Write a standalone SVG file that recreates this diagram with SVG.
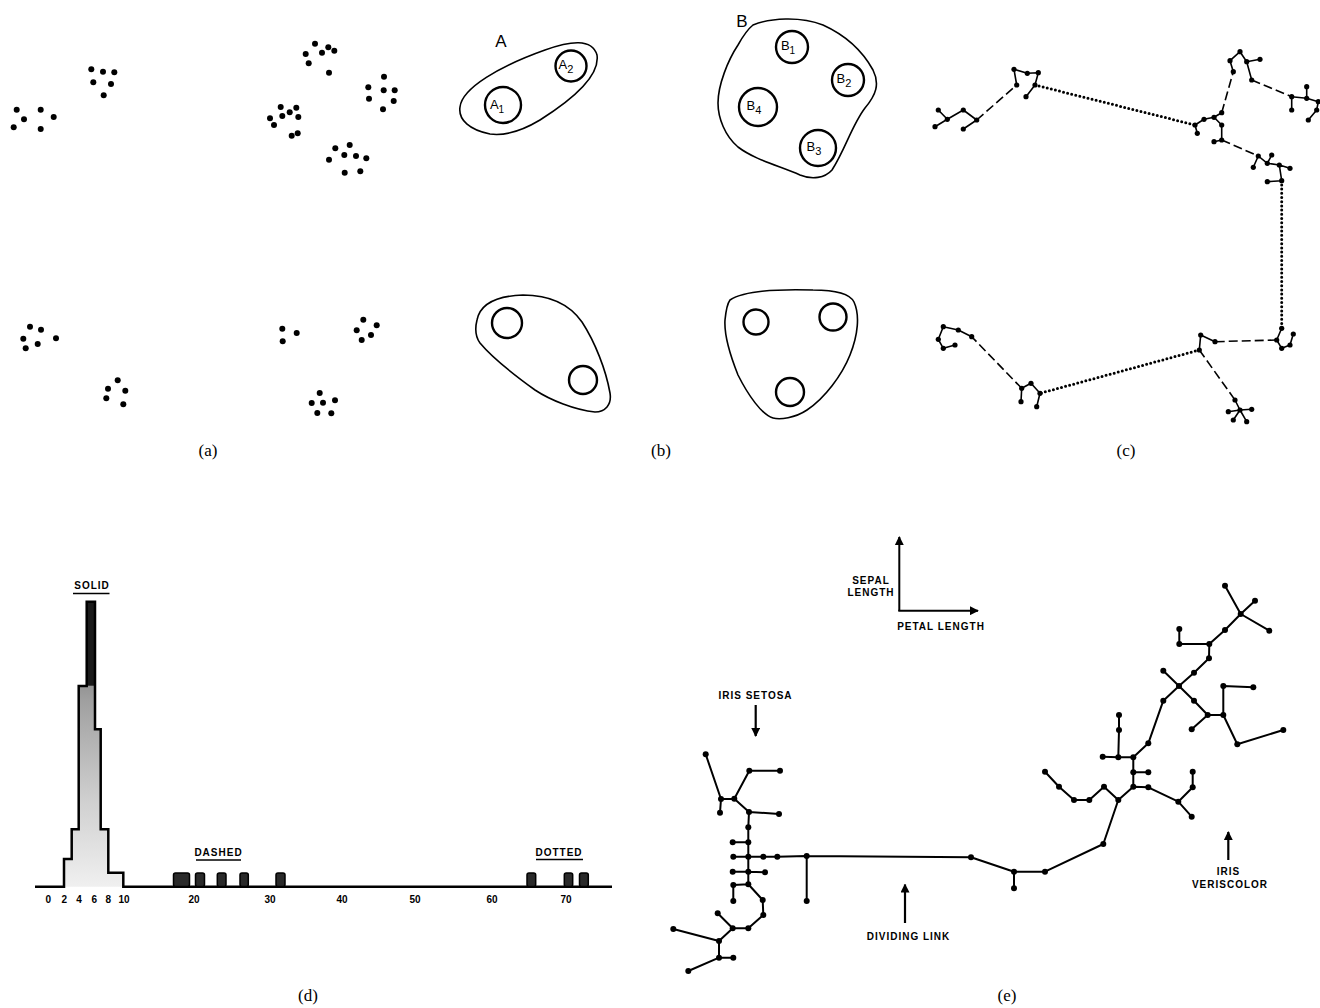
<svg xmlns="http://www.w3.org/2000/svg" width="1320" height="1008" viewBox="0 0 1320 1008">
<defs>
<style>
.dot{fill:#000}
.ln{stroke:#000;stroke-width:1.6;fill:none;stroke-linecap:round;stroke-linejoin:round}
.tr{stroke:#000;stroke-width:2;fill:none;stroke-linecap:round;stroke-linejoin:round}
.dash{stroke:#000;stroke-width:1.6;fill:none;stroke-dasharray:9,4}
.dotted{stroke:#000;stroke-width:3;fill:none;stroke-dasharray:0,4.2;stroke-linecap:round}
.blob{stroke:#000;stroke-width:1.6;fill:none}
.cell{stroke:#000;stroke-width:2.4;fill:none}
.cap{font-family:"Liberation Serif",serif;font-size:17px;fill:#000}
.lab{font-family:"Liberation Sans",Arial,sans-serif;font-weight:bold;font-size:10px;letter-spacing:1px;fill:#000}
.sub{font-family:"Liberation Sans",Arial,sans-serif;font-size:13px;fill:#000}
.bar{fill:#2a2a2a;stroke:#000;stroke-width:1.5}
</style>
<linearGradient id="hg" x1="0" y1="601" x2="0" y2="887" gradientUnits="userSpaceOnUse">
<stop offset="0" stop-color="#555"/>
<stop offset="0.35" stop-color="#a0a0a0"/>
<stop offset="0.7" stop-color="#d0d0d0"/>
<stop offset="1" stop-color="#f0f0f0"/>
</linearGradient>
<marker id="ah" viewBox="0 0 10 10" refX="9" refY="5" markerWidth="9" markerHeight="9" markerUnits="userSpaceOnUse" orient="auto">
<path d="M0,0 L10,5 L0,10 Z" fill="#000"/>
</marker>
</defs>
<rect width="1320" height="1008" fill="#fff"/>

<!-- Panel (a) -->
<g id="panel-a">
<g id="a-c1"><circle class="dot" cx="16.7" cy="109.7" r="3"/><circle class="dot" cx="40.7" cy="109.7" r="3"/><circle class="dot" cx="24" cy="119.3" r="3"/><circle class="dot" cx="53.7" cy="117" r="3"/><circle class="dot" cx="13.7" cy="127.3" r="3"/><circle class="dot" cx="40.7" cy="129" r="3"/></g>
<g id="a-c2"><circle class="dot" cx="91.3" cy="69.3" r="3"/><circle class="dot" cx="103" cy="71.7" r="3"/><circle class="dot" cx="114.3" cy="72.3" r="3"/><circle class="dot" cx="93.3" cy="82.3" r="3"/><circle class="dot" cx="111" cy="84" r="3"/><circle class="dot" cx="103.7" cy="95.3" r="3"/></g>
<g id="a-c3"><circle class="dot" cx="315" cy="43.7" r="3"/><circle class="dot" cx="328.3" cy="47.3" r="3"/><circle class="dot" cx="334.3" cy="50.7" r="3"/><circle class="dot" cx="305.7" cy="54" r="3"/><circle class="dot" cx="322" cy="52.7" r="3"/><circle class="dot" cx="308.7" cy="63.3" r="3"/><circle class="dot" cx="329" cy="72.7" r="3"/></g>
<g id="a-c4"><circle class="dot" cx="384" cy="76.7" r="3"/><circle class="dot" cx="368.3" cy="87.3" r="3"/><circle class="dot" cx="383.7" cy="90.3" r="3"/><circle class="dot" cx="394.7" cy="90.3" r="3"/><circle class="dot" cx="369" cy="98.7" r="3"/><circle class="dot" cx="393.7" cy="101" r="3"/><circle class="dot" cx="383" cy="109.3" r="3"/></g>
<g id="a-c5"><circle class="dot" cx="280.7" cy="107" r="3"/><circle class="dot" cx="296.3" cy="107.7" r="3"/><circle class="dot" cx="282.3" cy="116" r="3"/><circle class="dot" cx="289.7" cy="112.3" r="3"/><circle class="dot" cx="298.3" cy="117" r="3"/><circle class="dot" cx="270" cy="118.3" r="3"/><circle class="dot" cx="274" cy="125" r="3"/><circle class="dot" cx="291.7" cy="135.7" r="3"/><circle class="dot" cx="297.7" cy="133.3" r="3"/></g>
<g id="a-c6"><circle class="dot" cx="349.7" cy="145" r="3"/><circle class="dot" cx="335.3" cy="148.3" r="3"/><circle class="dot" cx="344.3" cy="155" r="3"/><circle class="dot" cx="356" cy="156" r="3"/><circle class="dot" cx="366.3" cy="158.3" r="3"/><circle class="dot" cx="329" cy="159.7" r="3"/><circle class="dot" cx="344.7" cy="172.7" r="3"/><circle class="dot" cx="360.3" cy="171.3" r="3"/></g>
<g id="a-c7"><circle class="dot" cx="30" cy="326.7" r="3"/><circle class="dot" cx="41" cy="329.7" r="3"/><circle class="dot" cx="23.3" cy="338.7" r="3"/><circle class="dot" cx="56" cy="338.3" r="3"/><circle class="dot" cx="37.7" cy="344" r="3"/><circle class="dot" cx="25.7" cy="348.3" r="3"/></g>
<g id="a-c8"><circle class="dot" cx="117.7" cy="380.3" r="3"/><circle class="dot" cx="108" cy="388.7" r="3"/><circle class="dot" cx="125.3" cy="390.7" r="3"/><circle class="dot" cx="106.3" cy="398.3" r="3"/><circle class="dot" cx="123.3" cy="404.3" r="3"/></g>
<g id="a-c9"><circle class="dot" cx="282.3" cy="328.7" r="3"/><circle class="dot" cx="296.7" cy="333" r="3"/><circle class="dot" cx="282.7" cy="341.3" r="3"/></g>
<g id="a-c10"><circle class="dot" cx="363.3" cy="319.7" r="3"/><circle class="dot" cx="376.7" cy="325.3" r="3"/><circle class="dot" cx="356.7" cy="330.3" r="3"/><circle class="dot" cx="371" cy="335" r="3"/><circle class="dot" cx="361.7" cy="340" r="3"/></g>
<g id="a-c11"><circle class="dot" cx="319.7" cy="393" r="3"/><circle class="dot" cx="311.7" cy="403" r="3"/><circle class="dot" cx="323" cy="402.7" r="3"/><circle class="dot" cx="335" cy="400.3" r="3"/><circle class="dot" cx="317.3" cy="413" r="3"/><circle class="dot" cx="331.3" cy="413.3" r="3"/></g>
<text class="cap" x="208" y="456" text-anchor="middle">(a)</text>
</g>

<!-- Panel (b) -->
<g id="panel-b">
<g id="b-A">
<text x="501" y="47" font-family="Liberation Sans,Arial,sans-serif" font-size="17" text-anchor="middle">A</text>
<path class="blob" d="M460,107 C462,88 500,66 545,50 C570,41 592,38 597,55 C600,75 575,98 540,120 C520,132 505,136 490,134 C470,130 458,120 460,107 Z"/>
<g id="b-A1"><circle class="cell" cx="503" cy="105" r="18"/><text class="sub" x="497" y="109" text-anchor="middle">A<tspan font-size="10" dy="4">1</tspan></text></g>
<g id="b-A2"><circle class="cell" cx="571" cy="66" r="15.5"/><text class="sub" x="566" y="69" text-anchor="middle">A<tspan font-size="11" dy="4">2</tspan></text></g>
</g>
<g id="b-B">
<text x="742" y="27" font-family="Liberation Sans,Arial,sans-serif" font-size="17" text-anchor="middle">B</text>
<path class="blob" d="M753,25 C770,18 800,16 823,25 C845,35 862,50 873,70 C880,84 876,95 865,108 C852,125 845,150 832,170 C825,178 812,180 800,175 C780,166 755,160 738,147 C725,136 718,118 718,103 C718,85 728,60 738,45 C743,36 748,29 753,25 Z"/>
<g id="b-B1"><circle class="cell" cx="792" cy="47" r="16"/><text class="sub" x="788" y="50" text-anchor="middle">B<tspan font-size="10" dy="4">1</tspan></text></g>
<g id="b-B2"><circle class="cell" cx="848" cy="80" r="16"/><text class="sub" x="844" y="83" text-anchor="middle">B<tspan font-size="11" dy="4">2</tspan></text></g>
<g id="b-B4"><circle class="cell" cx="758" cy="107" r="19"/><text class="sub" x="754" y="110" text-anchor="middle">B<tspan font-size="11" dy="4">4</tspan></text></g>
<g id="b-B3"><circle class="cell" cx="818" cy="148" r="18"/><text class="sub" x="814" y="151" text-anchor="middle">B<tspan font-size="11" dy="4">3</tspan></text></g>
</g>
<g id="b-C">
<path class="blob" d="M477,320 C480,305 495,296 523,295 C550,295 570,305 582,322 C595,342 606,370 610,393 C612,405 605,412 595,412 C575,410 550,400 535,390 C510,372 490,355 480,343 C475,336 475,328 477,320 Z"/>
<circle class="cell" cx="507" cy="323" r="15"/>
<circle class="cell" cx="583" cy="380" r="14"/>
</g>
<g id="b-D">
<path class="blob" d="M730,300 C745,290 780,289 813,290 C835,290 850,294 854,302 C860,315 858,335 850,355 C842,375 825,398 807,410 C795,418 780,420 773,418 C762,415 748,395 738,375 C730,355 724,335 725,320 C726,310 727,304 730,300 Z"/>
<circle class="cell" cx="756" cy="322" r="12.5"/>
<circle class="cell" cx="833" cy="317" r="13.5"/>
<circle class="cell" cx="790" cy="392" r="14"/>
</g>
<text class="cap" x="661" y="456" text-anchor="middle">(b)</text>
</g>

<!-- Panel (c) -->
<g id="panel-c">
<g id="c-links">
<path class="dash" d="M976.7,120 L1016.7,85"/>
<path class="dotted" d="M1035,85 L1195,125"/>
<path class="dash" d="M1221.7,112.7 L1233.3,71.7"/>
<path class="dash" d="M1251.7,80 L1291.7,96.7"/>
<path class="dash" d="M1221.7,140 L1258.3,156"/>
<path class="dotted" d="M1281.7,180.7 L1281.7,328.3"/>
<path class="dash" d="M1276.7,340 L1215,341.7"/>
<path class="dotted" d="M1199.3,350 L1040,393.3"/>
<path class="dash" d="M1199.3,350 L1235,400"/>
<path class="dash" d="M1021.7,388.3 L971.7,336.7"/>
</g>
<g id="c-edges">
<path class="ln" d="M938.3,110 L947.3,119.3 L935,126.7 M947.3,119.3 L963.3,110 L976.7,120 L963.3,129"/>
<path class="ln" d="M1016.7,85 L1014,69.3 L1027.3,73.3 L1038.3,72.7 L1035,85 L1026,96.7"/>
<path class="ln" d="M1197.3,133.3 L1195,125 L1204,119.3 L1214,117.3 L1221.7,112.7 M1214,117.3 L1221.7,125 L1221.7,140 L1214,141.7"/>
<path class="ln" d="M1233.3,71.7 L1230,60.7 L1240,51.7 L1246.7,61.7 L1260,59.3 M1246.7,61.7 L1251.7,80"/>
<path class="ln" d="M1291.7,110 L1291.7,96.7 L1306.7,98.3 L1306.7,86.7 M1306.7,98.3 L1318.3,101.7 L1316.7,110 L1308.3,120"/>
<path class="ln" d="M1253.3,167.3 L1258.3,156 L1267.3,163.3 L1271.7,155 M1267.3,163.3 L1279.3,165 L1290,168.3 M1279.3,165 L1281.7,180.7 L1267.3,181.7"/>
<path class="ln" d="M1281.7,328.3 L1276.7,340 L1281.7,348.3 L1290,345 L1293.3,334"/>
<path class="ln" d="M1215,341.7 L1200.7,335 L1199.3,350"/>
<path class="ln" d="M1235,400 L1240,410 L1246.7,421.7 M1228.3,411.7 L1240,410 L1251.7,409.3 M1240,410 L1233.3,420"/>
<path class="ln" d="M1021,401.7 L1021.7,388.3 L1031,383.3 L1040,393.3 L1036.7,406.7"/>
<path class="ln" d="M971.7,336.7 L958.3,330 L943.3,326.7 L938.3,339.3 L943.3,348.3 L955,345"/>
</g>
<g id="c-nodes" class="dot">
<circle cx="938.3" cy="110" r="2.6"/><circle cx="947.3" cy="119.3" r="2.6"/><circle cx="935" cy="126.7" r="2.6"/><circle cx="963.3" cy="110" r="2.6"/><circle cx="976.7" cy="120" r="2.6"/><circle cx="963.3" cy="129" r="2.6"/>
<circle cx="1014" cy="69.3" r="2.6"/><circle cx="1027.3" cy="73.3" r="2.6"/><circle cx="1038.3" cy="72.7" r="2.6"/><circle cx="1016.7" cy="85" r="2.6"/><circle cx="1035" cy="85" r="2.6"/><circle cx="1026" cy="96.7" r="2.6"/>
<circle cx="1195" cy="125" r="2.6"/><circle cx="1197.3" cy="133.3" r="2.6"/><circle cx="1204" cy="119.3" r="2.6"/><circle cx="1214" cy="117.3" r="2.6"/><circle cx="1221.7" cy="112.7" r="2.6"/><circle cx="1221.7" cy="125" r="2.6"/><circle cx="1221.7" cy="140" r="2.6"/><circle cx="1214" cy="141.7" r="2.6"/>
<circle cx="1233.3" cy="71.7" r="2.6"/><circle cx="1230" cy="60.7" r="2.6"/><circle cx="1240" cy="51.7" r="2.6"/><circle cx="1246.7" cy="61.7" r="2.6"/><circle cx="1260" cy="59.3" r="2.6"/><circle cx="1251.7" cy="80" r="2.6"/>
<circle cx="1291.7" cy="96.7" r="2.6"/><circle cx="1291.7" cy="110" r="2.6"/><circle cx="1306.7" cy="86.7" r="2.6"/><circle cx="1306.7" cy="98.3" r="2.6"/><circle cx="1318.3" cy="101.7" r="2.6"/><circle cx="1316.7" cy="110" r="2.6"/><circle cx="1308.3" cy="120" r="2.6"/>
<circle cx="1258.3" cy="156" r="2.6"/><circle cx="1253.3" cy="167.3" r="2.6"/><circle cx="1267.3" cy="163.3" r="2.6"/><circle cx="1271.7" cy="155" r="2.6"/><circle cx="1279.3" cy="165" r="2.6"/><circle cx="1290" cy="168.3" r="2.6"/><circle cx="1281.7" cy="180.7" r="2.6"/><circle cx="1267.3" cy="181.7" r="2.6"/>
<circle cx="1281.7" cy="328.3" r="2.6"/><circle cx="1276.7" cy="340" r="2.6"/><circle cx="1281.7" cy="348.3" r="2.6"/><circle cx="1290" cy="345" r="2.6"/><circle cx="1293.3" cy="334" r="2.6"/>
<circle cx="1200.7" cy="335" r="2.6"/><circle cx="1215" cy="341.7" r="2.6"/><circle cx="1199.3" cy="350" r="2.6"/>
<circle cx="1235" cy="400" r="2.6"/><circle cx="1228.3" cy="411.7" r="2.6"/><circle cx="1240" cy="410" r="2.6"/><circle cx="1251.7" cy="409.3" r="2.6"/><circle cx="1233.3" cy="420" r="2.6"/><circle cx="1246.7" cy="421.7" r="2.6"/>
<circle cx="1021.7" cy="388.3" r="2.6"/><circle cx="1031" cy="383.3" r="2.6"/><circle cx="1040" cy="393.3" r="2.6"/><circle cx="1036.7" cy="406.7" r="2.6"/><circle cx="1021" cy="401.7" r="2.6"/>
<circle cx="943.3" cy="326.7" r="2.6"/><circle cx="958.3" cy="330" r="2.6"/><circle cx="971.7" cy="336.7" r="2.6"/><circle cx="938.3" cy="339.3" r="2.6"/><circle cx="943.3" cy="348.3" r="2.6"/><circle cx="955" cy="345" r="2.6"/>
</g>
<text class="cap" x="1126" y="456" text-anchor="middle">(c)</text>
</g>

<!-- Panel (d) -->
<g id="panel-d">
<path d="M64,886.7 V859 H71.7 V829.3 H78.7 V686 H86.7 V601.7 H95 V729.3 H100.7 V829.3 H108.3 V872.7 H123.3 V886.7 Z" fill="url(#hg)"/>
<rect x="86.7" y="601.7" width="8.3" height="84" fill="#1a1a1a"/>
<path d="M35,886.7 H64 V859 H71.7 V829.3 H78.7 V686 H86.7 V601.7 H95 V729.3 H100.7 V829.3 H108.3 V872.7 H123.3 V886.7 H612" fill="none" stroke="#000" stroke-width="2.5" stroke-linejoin="miter"/>
<g id="d-dashed-bars">
<rect class="bar" x="173.5" y="873" width="16" height="13.5" rx="2" fill="#555"/>
<rect class="bar" x="195.5" y="873" width="9" height="13.5" rx="2"/>
<rect class="bar" x="217.3" y="873" width="8.7" height="13.5" rx="2"/>
<rect class="bar" x="240" y="873" width="8.3" height="13.5" rx="2"/>
<rect class="bar" x="276" y="873" width="9" height="13.5" rx="2"/>
</g>
<g id="d-dotted-bars">
<rect class="bar" x="527" y="873" width="8.7" height="13.5" rx="2"/>
<rect class="bar" x="564.3" y="873" width="8.4" height="13.5" rx="2"/>
<rect class="bar" x="579.5" y="873" width="8.8" height="13.5" rx="2"/>
</g>
<g id="d-labels">
<text class="lab" x="92" y="589" text-anchor="middle">SOLID</text>
<line x1="73" y1="593.5" x2="109.5" y2="593.5" stroke="#000" stroke-width="1.5"/>
<text class="lab" x="218.5" y="856" text-anchor="middle">DASHED</text>
<line x1="196" y1="860" x2="241" y2="860" stroke="#000" stroke-width="1.5"/>
<text class="lab" x="559" y="856" text-anchor="middle">DOTTED</text>
<line x1="536" y1="859.5" x2="583" y2="859.5" stroke="#000" stroke-width="1.5"/>
</g>
<g id="d-ticks" font-family="Liberation Sans,Arial,sans-serif" font-weight="bold" font-size="10" text-anchor="middle">
<text x="48.3" y="902.5">0</text><text x="64.3" y="902.5">2</text><text x="79" y="902.5">4</text><text x="94.3" y="902.5">6</text><text x="108.3" y="902.5">8</text><text x="124" y="902.5">10</text>
<text x="194" y="902.5">20</text><text x="270" y="902.5">30</text><text x="342" y="902.5">40</text><text x="415" y="902.5">50</text><text x="492" y="902.5">60</text><text x="566" y="902.5">70</text>
</g>
<text class="cap" x="308" y="1001" text-anchor="middle">(d)</text>
</g>

<!-- Panel (e) -->
<g id="panel-e">
<g id="e-axes">
<line x1="899.3" y1="611" x2="899.3" y2="537" stroke="#000" stroke-width="2" marker-end="url(#ah)"/>
<line x1="898.3" y1="610.7" x2="978" y2="610.7" stroke="#000" stroke-width="2" marker-end="url(#ah)"/>
<text class="lab" x="871" y="584" text-anchor="middle">SEPAL</text>
<text class="lab" x="871" y="596" text-anchor="middle">LENGTH</text>
<text class="lab" x="941" y="630" text-anchor="middle">PETAL LENGTH</text>
</g>
<g id="e-annotations">
<text class="lab" x="755.5" y="699" text-anchor="middle">IRIS SETOSA</text>
<line x1="755.7" y1="705" x2="755.7" y2="736" stroke="#000" stroke-width="2.2" marker-end="url(#ah)"/>
<line x1="905" y1="923" x2="905" y2="884.5" stroke="#000" stroke-width="2.2" marker-end="url(#ah)"/>
<text class="lab" x="908.5" y="940" text-anchor="middle">DIVIDING LINK</text>
<line x1="1228.3" y1="860" x2="1228.3" y2="832" stroke="#000" stroke-width="2.2" marker-end="url(#ah)"/>
<text class="lab" x="1228.5" y="875" text-anchor="middle">IRIS</text>
<text class="lab" x="1230" y="888" text-anchor="middle">VERISCOLOR</text>
</g>
<g id="e-edges">
<path class="tr" d="M705.7,754.3 L721,799 L720,812.7 M721,799 L734.3,798.7 L749.3,770.7 L780,770.7 M734.3,798.7 L749,812 L779,814 M749,812 L748.3,827.3 L748.3,842.3 L732.7,842.3 M748.3,842.3 L748.3,856.7 L733.3,856.7 M748.3,856.7 L763.3,856.7 L777.3,856.7 L806.7,856 L806.7,901 M806.7,856 L971,857.3"/>
<path class="tr" d="M748.3,856.7 L748.3,871.7 L732.7,871.7 M748.3,871.7 L765,872.3 M748.3,871.7 L748.3,884.3 L733.3,885 L733.3,901 M748.3,884.3 L762.7,900 L763.3,915 L748.3,928.3 L732.7,928.3 L717.7,913.3 M732.7,928.3 L719,941 L673.3,929 M719,941 L719,957.7 L733.3,957.7 M719,957.7 L688.3,971"/>
<path class="tr" d="M971,857.3 L1014,871.7 L1014,888.3 M1014,871.7 L1045,871.7 L1103.3,844 L1118.3,800 L1104,786.7 L1089.3,800 L1074,800 L1059,786.7 L1045,771.7 M1118.3,800 L1133.3,786.7 L1148.3,787.3 L1178.3,801.7 L1191.7,816.7 M1178.3,801.7 L1192.7,787.3 L1192.7,771.7"/>
<path class="tr" d="M1133.3,786.7 L1133.3,772.3 L1148.3,772.3 M1133.3,772.3 L1133.3,757.3 L1118.3,757.3 L1102.7,756.7 M1118.3,757.3 L1119,730 L1119,715 M1133.3,757.3 L1148.3,743.3 L1163.3,700.7 L1179,686 L1163.3,670.7 M1179,686 L1194,672.7 L1209,658.3 L1209.3,644 L1179.3,644 L1179.3,629 M1209.3,644 L1225,630 L1240.7,614 L1225,585.7 M1240.7,614 L1255,600.7 M1240.7,614 L1269.3,630.7"/>
<path class="tr" d="M1179,686 L1194,700.7 L1207.7,715 L1191.7,729.3 M1207.7,715 L1223.3,715 L1223.3,686 L1253.3,687.3 M1223.3,715 L1237.3,744.3 L1283.3,730"/>
</g>
<g id="e-nodes" class="dot">
<circle cx="705.7" cy="754.3" r="3"/><circle cx="721" cy="799" r="3"/><circle cx="720" cy="812.7" r="3"/><circle cx="734.3" cy="798.7" r="3"/><circle cx="749.3" cy="770.7" r="3"/><circle cx="780" cy="770.7" r="3"/><circle cx="749" cy="812" r="3"/><circle cx="779" cy="814" r="3"/><circle cx="748.3" cy="827.3" r="3"/><circle cx="748.3" cy="842.3" r="3"/><circle cx="732.7" cy="842.3" r="3"/><circle cx="748.3" cy="856.7" r="3"/><circle cx="733.3" cy="856.7" r="3"/><circle cx="763.3" cy="856.7" r="3"/><circle cx="777.3" cy="856.7" r="3"/><circle cx="806.7" cy="856" r="3"/><circle cx="806.7" cy="901" r="3"/><circle cx="971" cy="857.3" r="3"/>
<circle cx="748.3" cy="871.7" r="3"/><circle cx="732.7" cy="871.7" r="3"/><circle cx="765" cy="872.3" r="3"/><circle cx="748.3" cy="884.3" r="3"/><circle cx="733.3" cy="885" r="3"/><circle cx="733.3" cy="901" r="3"/><circle cx="762.7" cy="900" r="3"/><circle cx="763.3" cy="915" r="3"/><circle cx="748.3" cy="928.3" r="3"/><circle cx="732.7" cy="928.3" r="3"/><circle cx="717.7" cy="913.3" r="3"/><circle cx="719" cy="941" r="3"/><circle cx="673.3" cy="929" r="3"/><circle cx="719" cy="957.7" r="3"/><circle cx="733.3" cy="957.7" r="3"/><circle cx="688.3" cy="971" r="3"/>
<circle cx="1014" cy="871.7" r="3"/><circle cx="1014" cy="888.3" r="3"/><circle cx="1045" cy="871.7" r="3"/><circle cx="1103.3" cy="844" r="3"/><circle cx="1118.3" cy="800" r="3"/><circle cx="1104" cy="786.7" r="3"/><circle cx="1089.3" cy="800" r="3"/><circle cx="1074" cy="800" r="3"/><circle cx="1059" cy="786.7" r="3"/><circle cx="1045" cy="771.7" r="3"/><circle cx="1133.3" cy="786.7" r="3"/><circle cx="1148.3" cy="787.3" r="3"/><circle cx="1178.3" cy="801.7" r="3"/><circle cx="1191.7" cy="816.7" r="3"/><circle cx="1192.7" cy="787.3" r="3"/><circle cx="1192.7" cy="771.7" r="3"/>
<circle cx="1133.3" cy="772.3" r="3"/><circle cx="1148.3" cy="772.3" r="3"/><circle cx="1133.3" cy="757.3" r="3"/><circle cx="1118.3" cy="757.3" r="3"/><circle cx="1102.7" cy="756.7" r="3"/><circle cx="1119" cy="730" r="3"/><circle cx="1119" cy="715" r="3"/><circle cx="1148.3" cy="743.3" r="3"/><circle cx="1163.3" cy="700.7" r="3"/><circle cx="1179" cy="686" r="3"/><circle cx="1163.3" cy="670.7" r="3"/><circle cx="1194" cy="672.7" r="3"/><circle cx="1209" cy="658.3" r="3"/><circle cx="1209.3" cy="644" r="3"/><circle cx="1179.3" cy="644" r="3"/><circle cx="1179.3" cy="629" r="3"/><circle cx="1225" cy="630" r="3"/><circle cx="1240.7" cy="614" r="3"/><circle cx="1225" cy="585.7" r="3"/><circle cx="1255" cy="600.7" r="3"/><circle cx="1269.3" cy="630.7" r="3"/>
<circle cx="1194" cy="700.7" r="3"/><circle cx="1207.7" cy="715" r="3"/><circle cx="1191.7" cy="729.3" r="3"/><circle cx="1223.3" cy="715" r="3"/><circle cx="1223.3" cy="686" r="3"/><circle cx="1253.3" cy="687.3" r="3"/><circle cx="1237.3" cy="744.3" r="3"/><circle cx="1283.3" cy="730" r="3"/>
</g>
<text class="cap" x="1007" y="1001" text-anchor="middle">(e)</text>
</g>
</svg>
